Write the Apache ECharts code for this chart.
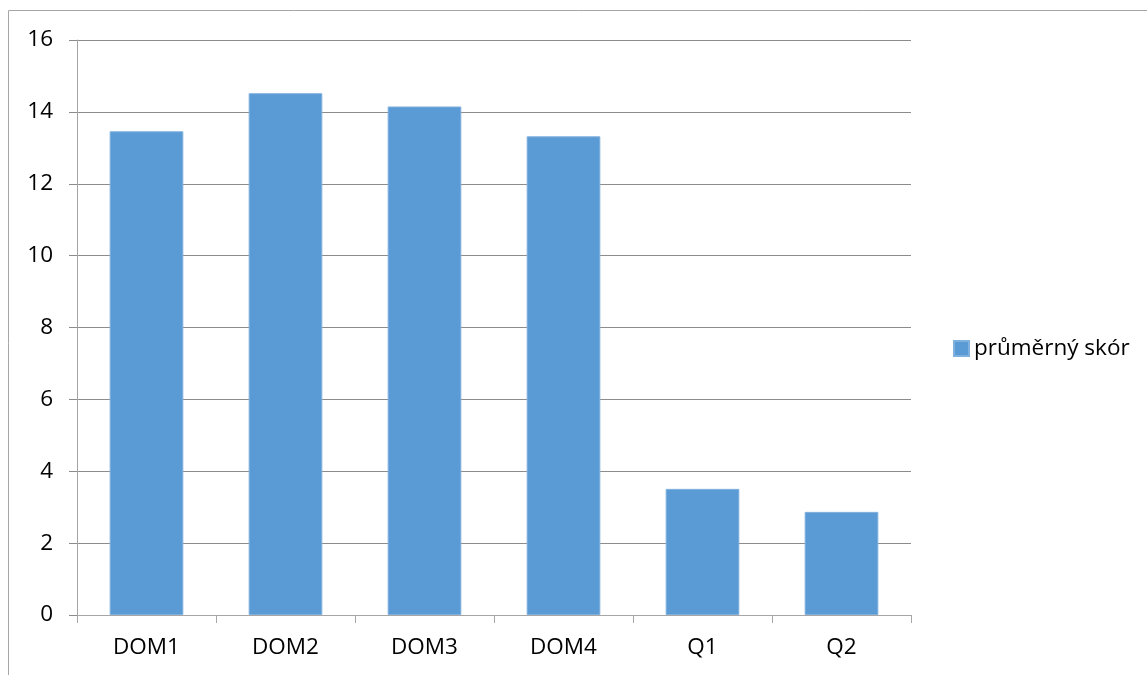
<!DOCTYPE html>
<html>
<head>
<meta charset="utf-8">
<script src="https://cdn.jsdelivr.net/npm/echarts@6/dist/echarts.min.js"></script>
<style>
  html, body { margin: 0; padding: 0; background: #fff; }
  #chart { width: 1147px; height: 675px; }
</style>
</head>
<body>
<div id="chart"></div>
<script>
// data
const categories = ['DOM1', 'DOM2', 'DOM3', 'DOM4', 'Q1', 'Q2'];
const scores = [13.46, 14.52, 14.15, 13.32, 3.51, 2.87];
const seriesName = 'průměrný skór';
const yTicks = { min: 0, max: 16, interval: 2 };

(function () {
  'use strict';

  const chart = echarts.init(document.getElementById('chart'));
  const font = '"Open Sans", "Noto Sans", sans-serif';

  const option = {
    animation: false,
    textStyle: { fontFamily: font },
    graphic: [{
      // chart area frame (cut off at the right and bottom)
      type: 'rect',
      shape: { x: 8.5, y: 10.5, width: 1200, height: 700 },
      style: { fill: null, stroke: '#a6a6a6', lineWidth: 1 },
      silent: true
    }],
    grid: { left: 77, right: 236, top: 40, bottom: 60 },
    legend: {
      data: [seriesName],
      left: 948,
      top: 332,
      icon: 'rect',
      itemWidth: 15,
      itemHeight: 15,
      itemGap: 6,
      textStyle: { fontSize: 22.5, color: '#000', fontFamily: font }
    },
    xAxis: {
      type: 'category',
      data: categories,
      axisLine: { lineStyle: { color: '#a6a6a6', width: 1 } },
      axisTick: { show: true, length: 8, lineStyle: { color: '#a6a6a6' } },
      axisLabel: { color: '#000', fontSize: 22.5, margin: 21, fontFamily: font }
    },
    yAxis: {
      type: 'value',
      min: yTicks.min,
      max: yTicks.max,
      interval: yTicks.interval,
      axisLine: { show: true, lineStyle: { color: '#a6a6a6', width: 1 } },
      axisTick: { show: true, length: 8, lineStyle: { color: '#8c8c8c' } },
      axisLabel: { color: '#000', fontSize: 22.5, margin: 24, fontFamily: font },
      splitLine: { lineStyle: { color: '#8c8c8c', width: 1 } }
    },
    series: [{
      name: seriesName,
      type: 'bar',
      data: scores,
      barCategoryGap: '47%',
      itemStyle: { color: '#5B9BD5', borderColor: '#7FB0DE', borderWidth: 1 }
    }]
  };

  chart.setOption(option);

  window.addEventListener('resize', function () {
    chart.resize();
  });
})();
</script>
</body>
</html>
